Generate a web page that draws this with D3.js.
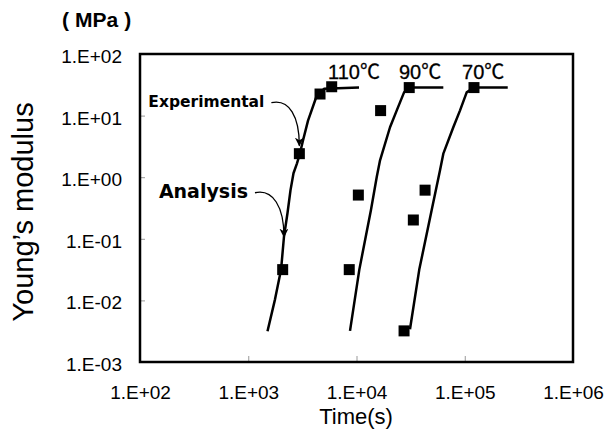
<!DOCTYPE html>
<html>
<head>
<meta charset="utf-8">
<script src="https://cdn.jsdelivr.net/npm/d3@7"></script>
<style>
  body { margin: 0; background: #fff; }
  text { font-family: "Liberation Sans", Arial, "Noto Sans CJK JP", sans-serif; }
</style>
</head>
<body>
<div id="vis-container"></div>
<script>
// Data: [time (s), Young's modulus (MPa)]
const analysis110 = [[1506, 0.00316], [1767, 0.0104], [2010, 0.0316], [2138, 0.108], [2305, 0.262],
  [2457, 0.617], [2618, 1.16], [2820, 1.68], [3005, 2.44], [3204, 3.95], [3566, 8.3],
  [4227, 19.5], [5012, 27.2], [10550, 28.5]];
const analysis90 = [[8710, 0.0032], [10620, 0.0316], [13600, 0.294], [15380, 1.01], [16500, 1.88],
  [20400, 6.47], [23500, 12.05], [27500, 23.8], [30600, 28.5], [63400, 28.5]];
const analysis70 = [[31200, 0.0034], [38000, 0.0316], [49500, 0.294], [59100, 1.30], [63400, 2.41],
  [78400, 6.47], [90300, 12.05], [104200, 23.8], [121700, 28.5], [249500, 28.5]];

const exp110 = [[2080, 0.0316], [2966, 2.41], [4603, 22.4], [5900, 29.4]];
const exp90 = [[8570, 0.0316], [10400, 0.513], [16700, 12.05], [30700, 28.5]];
const exp70 = [[27500, 0.0032], [33500, 0.202], [43000, 0.616], [121700, 28.5]];

const tempLabels = [
  { text: "110℃", t: 5460, E: 28.5 },
  { text: "90℃", t: 24700, E: 28.5 },
  { text: "70℃", t: 94400, E: 28.5 }
];

const xTicks = [1e2, 1e3, 1e4, 1e5, 1e6];
const xTickLabels = ["1.E+02", "1.E+03", "1.E+04", "1.E+05", "1.E+06"];
const yTicks = [1e2, 1e1, 1e0, 1e-1, 1e-2, 1e-3];
const yTickLabels = ["1.E+02", "1.E+01", "1.E+00", "1.E-01", "1.E-02", "1.E-03"];

const margin = { top: 54, right: 31, bottom: 71, left: 140 },
      width = 604 - margin.left - margin.right,
      height = 433 - margin.top - margin.bottom;

const root = d3.select("#vis-container")
  .append("svg")
    .attr("width", 604)
    .attr("height", 433);

const svg = root.append("g")
    .attr("transform", `translate(${margin.left},${margin.top})`);

const x = d3.scaleLog().domain([1e2, 1e6]).range([0, width]);
const y = d3.scaleLog().domain([1e-3, 1e2]).range([height, 0]);

// Axes (ticks inside, grey)
const xAxis = svg.append("g")
  .attr("transform", `translate(0,${height})`)
  .call(d3.axisBottom(x).tickValues(xTicks).tickSize(-6).tickPadding(24)
    .tickFormat((d, i) => xTickLabels[i]));
xAxis.select(".domain").remove();
xAxis.selectAll("line").attr("stroke", "#999");
xAxis.selectAll("text").style("font-size", "19px").attr("fill", "#000");

const yAxis = svg.append("g")
  .call(d3.axisLeft(y).tickValues(yTicks).tickSize(-5).tickPadding(18)
    .tickFormat((d, i) => yTickLabels[i]));
yAxis.select(".domain").remove();
yAxis.selectAll("line").attr("stroke", "#999");
yAxis.selectAll("text").style("font-size", "19px").attr("fill", "#000").attr("dy", "0.45em");

// Frame
svg.append("rect")
  .attr("width", width)
  .attr("height", height)
  .attr("fill", "none")
  .attr("stroke", "#000")
  .attr("stroke-width", 2.5);

// Analysis lines
const line = d3.line()
  .x(d => x(d[0]))
  .y(d => y(d[1]));

[analysis110, analysis90, analysis70].forEach(s => {
  svg.append("path")
    .datum(s)
    .attr("fill", "none")
    .attr("stroke", "#000")
    .attr("stroke-width", 2.5)
    .attr("stroke-linejoin", "round")
    .attr("d", line);
});

// Experimental points
const sq = 11;
[exp110, exp90, exp70].forEach(s => {
  svg.append("g").selectAll("rect")
    .data(s)
    .join("rect")
      .attr("x", d => x(d[0]) - sq / 2)
      .attr("y", d => y(d[1]) - sq / 2)
      .attr("width", sq)
      .attr("height", sq)
      .attr("fill", "#000");
});

// Temperature labels
svg.selectAll(".temp")
  .data(tempLabels)
  .join("text")
    .attr("class", "temp")
    .attr("x", d => x(d.t))
    .attr("y", d => y(d.E) - 9)
    .style("font-size", "20px")
    .style("stroke", "#000")
    .style("stroke-width", 0.3)
    .text(d => d.text);

// Annotations with curved arrows
const defs = root.append("defs");
defs.append("marker")
  .attr("id", "arrow")
  .attr("viewBox", "0 0 10 10")
  .attr("refX", 9)
  .attr("refY", 5)
  .attr("markerWidth", 9)
  .attr("markerHeight", 9)
  .attr("markerUnits", "userSpaceOnUse")
  .attr("orient", "auto")
  .append("path")
    .attr("d", "M0,0 L10,5 L0,10 L3,5 Z")
    .attr("fill", "#000");

const annotations = [
  { label: "Experimental", size: 15.5, tx: x(exp110[1][0]), ty: y(exp110[1][1]) - 8, dx: -28, dy: -43 },
  { label: "Analysis", size: 19, tx: x(analysis110[3][0]), ty: y(analysis110[3][1]), dx: -29, dy: -44 }
];

annotations.forEach(a => {
  const sx = a.tx + a.dx, sy = a.ty + a.dy;
  svg.append("path")
    .attr("d", `M${sx},${sy} C${sx + 18},${sy - 4} ${a.tx},${sy + 14} ${a.tx},${a.ty}`)
    .attr("fill", "none")
    .attr("stroke", "#000")
    .attr("stroke-width", 1.3)
    .attr("marker-end", "url(#arrow)");
  svg.append("text")
    .attr("x", sx - 7)
    .attr("y", sy + a.size * 0.27)
    .attr("text-anchor", "end")
    .style("font-family", "'DejaVu Sans', sans-serif")
    .style("font-weight", "bold")
    .style("font-size", a.size + "px")
    .text(a.label);
});

// Axis titles
root.append("text")
  .attr("x", 356)
  .attr("y", 424)
  .attr("text-anchor", "middle")
  .style("font-size", "22px")
  .text("Time(s)");

root.append("text")
  .attr("transform", "translate(33,212) rotate(-90)")
  .attr("text-anchor", "middle")
  .style("font-size", "29px")
  .text("Young’s modulus");

const unit = root.append("text")
  .attr("x", 62)
  .attr("y", 27)
  .style("font-weight", "bold")
  .style("font-size", "21px");
unit.append("tspan").text("(");
unit.append("tspan").attr("dx", 6).text("MPa");
unit.append("tspan").attr("dx", 6).text(")");
</script>
</body>
</html>
